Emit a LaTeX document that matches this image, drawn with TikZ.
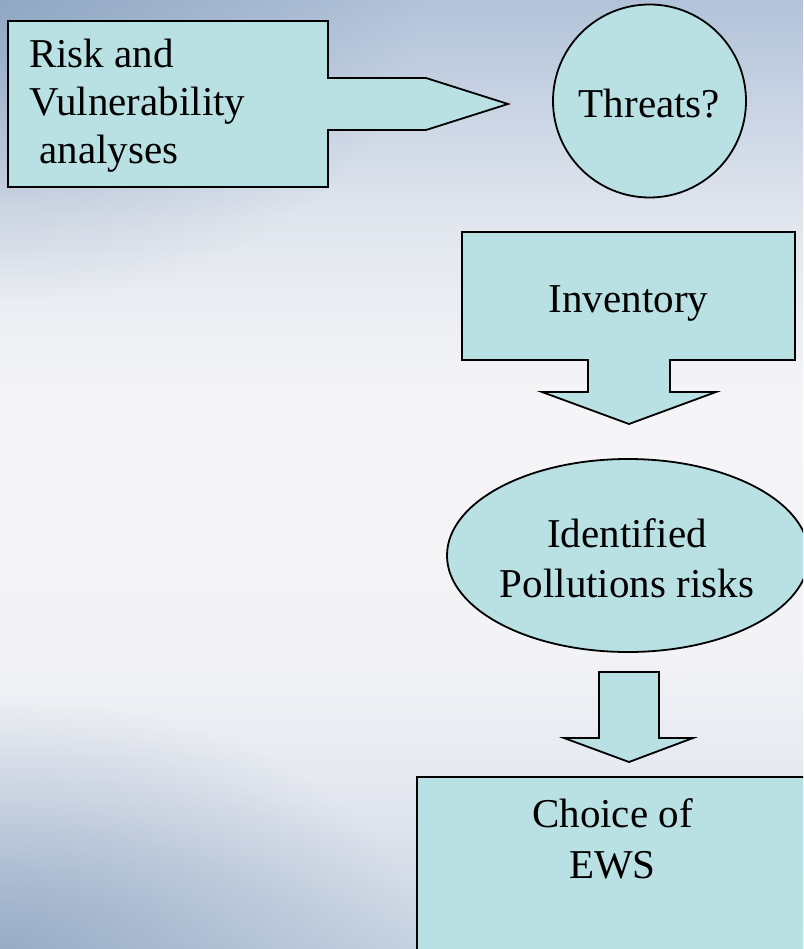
\documentclass[tikz,border=0pt]{standalone}
\usepackage{fontspec}
\setmainfont{Liberation Serif}
\usetikzlibrary{fadings}
\definecolor{boxfill}{HTML}{B9E0E2}
\definecolor{bgA}{HTML}{B2C3D9}
\definecolor{bgB}{HTML}{C8D3E3}
\definecolor{bgC}{HTML}{E1E6EE}
\definecolor{bgD}{HTML}{F5F5F7}
\definecolor{bgE}{HTML}{F3F3F6}
\definecolor{bgF}{HTML}{E3E7EF}
\definecolor{bgG}{HTML}{C6D2E1}
\definecolor{bgdark}{HTML}{7F98B8}
\pgfdeclareverticalshading{bgshade}{100bp}{color(0bp)=(bgG); color(25bp)=(bgG); color(32.9bp)=(bgF); color(40.8bp)=(bgE); color(53.9bp)=(bgD); color(63.4bp)=(bgC); color(69.7bp)=(bgB); color(75bp)=(bgA); color(100bp)=(bgA)}
\tikzfading[name=radfade, inner color=transparent!35, outer color=transparent!100]
\tikzset{
  shapebox/.style={draw=black, fill=boxfill, line width=1.8pt, line join=miter},
  txt/.style={inner sep=0pt, anchor=base, font=\fontsize{41}{49}\selectfont},
}
\begin{document}
\begin{tikzpicture}[x=1pt, y=-1pt]
\useasboundingbox (0,0) rectangle (803,949);
\clip (0,0) rectangle (803,949);
% background
\shade[shading=bgshade] (0,0) rectangle (803,949);
\fill[bgdark, path fading=radfade] (-420,-300) rectangle (420,300);
\fill[bgdark, path fading=radfade] (-420,700) rectangle (420,1200);
% Risk and vulnerability callout
\draw[shapebox] (8,21) -- (328,21) -- (328,78) -- (426,78) -- (508,104)
  -- (426,130) -- (328,130) -- (328,187) -- (8,187) -- cycle;
\node[txt, anchor=base west] (risk) at (29,68)
  {\fontsize{41}{48}\selectfont\begin{tabular}[t]{@{}l@{}}Risk and\\Vulnerability\\\ analyses\end{tabular}};
% Threats circle
\node[shapebox, circle, minimum size=193pt, inner sep=0pt] (threatsc) at (649.5,101) {};
\node[txt] (threats) at (649.5,118) {Threats?};
% Inventory block arrow
\draw[shapebox] (462,232) -- (795,232) -- (795,360) -- (670,360) -- (670,392)
  -- (716,392) -- (629,424) -- (542,392) -- (588,392) -- (588,360) -- (462,360) -- cycle;
\node[txt] (inventory) at (628.5,312) {Inventory};
% Identified pollution risks ellipse
\draw[shapebox] (628,555.5) ellipse [x radius=181, y radius=96.5];
\node[txt] (identified) at (627,547)
  {\fontsize{41}{50}\selectfont\begin{tabular}[t]{@{}c@{}}Identified\\Pollutions risks\end{tabular}};
% down arrow
\draw[shapebox] (599,672) -- (659,672) -- (659,738) -- (693,738) -- (629,762)
  -- (564,738) -- (599,738) -- cycle;
% Choice of EWS box
\draw[shapebox] (417,777) rectangle (808,960);
\node[txt] (choice) at (612.5,827)
  {\fontsize{41}{51}\selectfont\begin{tabular}[t]{@{}c@{}}Choice of\\EWS\end{tabular}};
\end{tikzpicture}
\end{document}
